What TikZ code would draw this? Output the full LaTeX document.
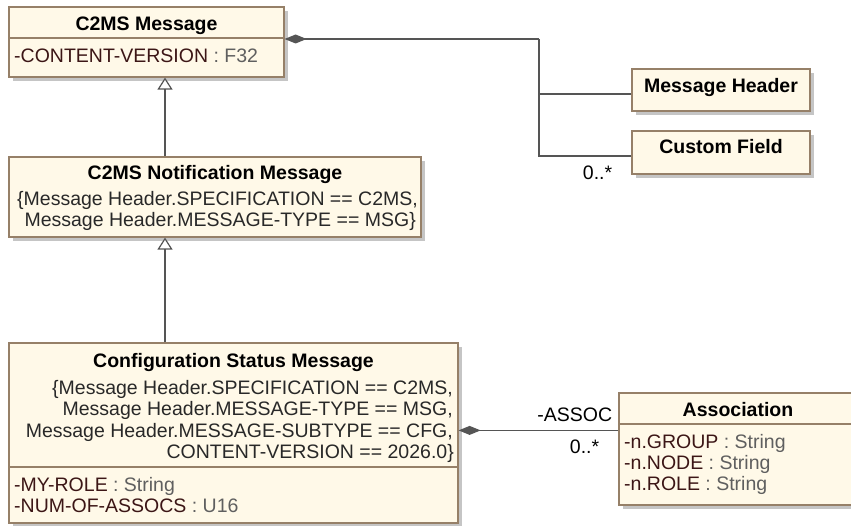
\documentclass[tikz,border=0pt]{standalone}
\usepackage{fontspec}
\setmainfont{Liberation Sans}
\usepackage{tikz}
\usetikzlibrary{arrows.meta,shadows,calc}
\definecolor{boxfill}{RGB}{255,249,232}
\definecolor{boxline}{RGB}{150,128,104}
\definecolor{linegray}{RGB}{85,85,85}
\definecolor{attname}{RGB}{60,22,22}
\definecolor{atttype}{RGB}{95,95,95}
\definecolor{textdark}{RGB}{40,40,40}
\newcommand{\letra}{\fontsize{19.5}{21}\selectfont}
\tikzstyle{caja}=[draw=boxline,fill=boxfill,line width=1.2pt,inner sep=0pt,
  drop shadow={shadow xshift=4pt,shadow yshift=-4pt,fill=black!45,opacity=.5}]
\tikzstyle{nombre}=[inner sep=0pt,anchor=base,font=\letra\bfseries]
\tikzstyle{atrib}=[inner sep=0pt,anchor=base west]
\tikzstyle{restr}=[inner sep=0pt,anchor=base east,text=textdark]
\tikzstyle{hereda}=[draw=linegray,line width=1.2pt,-{Triangle[open,length=12pt,width=15pt,fill=white]}]
\tikzstyle{compone}=[draw=linegray,line width=1.2pt,-{Diamond[length=22pt,width=9pt,fill=linegray]}]
\newcommand{\attr}[2]{\textcolor{attname}{#1} \textcolor{atttype}{: #2}}

\begin{document}
\begin{tikzpicture}[x=1pt,y=-1pt,font=\letra]
    \useasboundingbox (0,0) rectangle (851,526);
    % class boxes
    \node [caja,minimum width=275pt,minimum height=70pt] (msg) at (146.5,42) {};
    \node [caja,minimum width=412pt,minimum height=80pt] (notif) at (215,197) {};
    \node [caja,minimum width=449pt,minimum height=180pt] (cfg) at (233.5,433) {};
    \node [caja,minimum width=178pt,minimum height=42pt] (hdr) at (721,90) {};
    \node [caja,minimum width=178pt,minimum height=43pt] (cf) at (721,152.5) {};
    \node [caja,minimum width=238pt,minimum height=112pt] (assoc) at (738,449) {};
    \draw [boxline,line width=1.2pt] (msg.west |- 0,38) -- (msg.east |- 0,38);
    \draw [boxline,line width=1.2pt] (cfg.west |- 0,467) -- (cfg.east |- 0,467);
    \draw [boxline,line width=1.2pt] (assoc.west |- 0,424) -- (assoc.east |- 0,424);

    % C2MS Message
    \node [nombre] (msgname) at (146.5,31) {C2MS Message};
    \node [atrib] (msgver) at (14,63) {\attr{-CONTENT-VERSION}{F32}};
    % C2MS Notification Message
    \node [nombre] (notifname) at (215,180) {C2MS Notification Message};
    \node [restr] (notifspec) at (418,206) {\{Message Header.SPECIFICATION == C2MS,};
    \node [restr] (notiftype) at (416,227) {Message Header.MESSAGE-TYPE == MSG\}};
    % Configuration Status Message
    \node [nombre] (cfgname) at (233.5,367) {Configuration Status Message};
    \node [restr] (cfgspec) at (453,394) {\{Message Header.SPECIFICATION == C2MS,};
    \node [restr] (cfgtype) at (453,415) {Message Header.MESSAGE-TYPE == MSG,};
    \node [restr] (cfgsub) at (453,437) {Message Header.MESSAGE-SUBTYPE == CFG,};
    \node [restr] (cfgver) at (454,458) {CONTENT-VERSION == 2026.0\}};
    \node [atrib] (cfgrole) at (14,491) {\attr{-MY-ROLE}{String}};
    \node [atrib] (cfgnum) at (14,512) {\attr{-NUM-OF-ASSOCS}{U16}};
    % Message Header, Custom Field
    \node [nombre] (hdrname) at (721,93) {Message Header};
    \node [nombre] (cfname) at (721,154) {Custom Field};
    % Association
    \node [nombre] (assocname) at (738,416) {Association};
    \node [atrib] (agroup) at (624,448) {\attr{-n.GROUP}{String}};
    \node [atrib] (anode) at (624,469) {\attr{-n.NODE}{String}};
    \node [atrib] (arole) at (624,490) {\attr{-n.ROLE}{String}};

    % generalizations
    \coordinate (gen) at (165,0);
    \draw [hereda] (notif.north -| gen) -- (msg.south -| gen);
    \draw [hereda] (cfg.north -| gen) -- (notif.south -| gen);

    % compositions
    \coordinate (trunk) at (539,39);
    \draw [compone] (trunk) -- (msg.east |- trunk);
    \draw [draw=linegray,line width=1.2pt] (trunk) |- ($(hdr.west)+(0,4)$);
    \draw [draw=linegray,line width=1.2pt] (trunk) |- ($(cf.west)+(0,3.5)$) coordinate (cfend);
    \node [inner sep=0pt,anchor=base east] (cfmult) at ($(cfend)+(-19,24)$) {0..*};

    \coordinate (aend) at ($(assoc.north west)+(0,38)$);
    \draw [compone] (aend) -- (cfg.east |- aend);
    \node [inner sep=0pt,anchor=base east] (arolename) at ($(aend)+(-6,-9)$) {-ASSOC};
    \node [inner sep=0pt,anchor=base east] (amult) at ($(aend)+(-19,23)$) {0..*};
\end{tikzpicture}
\end{document}
